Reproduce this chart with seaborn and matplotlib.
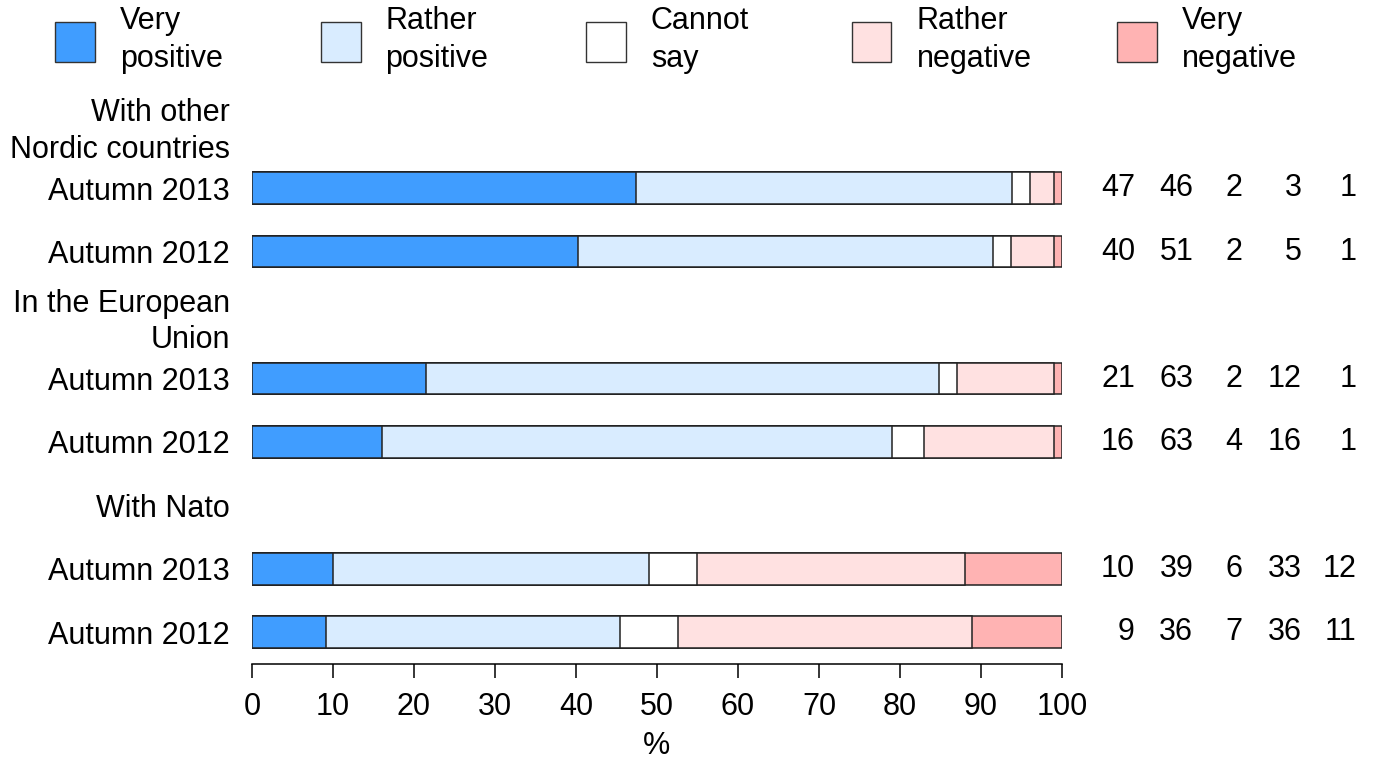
import matplotlib
matplotlib.use("Agg")
import matplotlib.pyplot as plt
from matplotlib.patches import Rectangle
import pandas as pd
import seaborn as sns

categories = ["Very\npositive", "Rather\npositive", "Cannot\nsay", "Rather\nnegative", "Very\nnegative"]
colors = ["#409DFF", "#D9ECFF", "#FFFFFF", "#FFE1E1", "#FFB3B3"]

groups = ["With other\nNordic countries", "In the European\nUnion", "With Nato"]
periods = ["Autumn 2013", "Autumn 2012"]

# bar shares (each row sums to 100)
very_pos = [47.4, 40.2, 21.5, 16.0, 10.0, 9.1]
rather_pos = [46.4, 51.3, 63.3, 63.0, 39.0, 36.3]
cannot_say = [2.2, 2.2, 2.2, 4.0, 5.9, 7.2]
rather_neg = [3.0, 5.3, 12.0, 16.0, 33.1, 36.3]
very_neg = [1.0, 1.0, 1.0, 1.0, 12.0, 11.1]

# the rounded figures printed at the right
printed = [
    [47, 46, 2, 3, 1],
    [40, 51, 2, 5, 1],
    [21, 63, 2, 12, 1],
    [16, 63, 4, 16, 1],
    [10, 39, 6, 33, 12],
    [9, 36, 7, 36, 11],
]

sns.set_theme(style="white")
plt.rcParams["font.family"] = ["Liberation Sans", "DejaVu Sans"]
for key in ["text.color", "axes.labelcolor", "xtick.color", "ytick.color"]:
    plt.rcParams[key] = "black"
FS = 22

# row ids: a header slot per group, then one slot per period
order, tick_labels, bar_rows = [], [], []
for g, group in enumerate(groups):
    order.append(f"h{g}")
    tick_labels.append(group)
    for p, period in enumerate(periods):
        order.append(f"r{g}{p}")
        tick_labels.append(period)
        bar_rows.append(f"r{g}{p}")

segments = [very_pos, rather_pos, cannot_say, rather_neg, very_neg]
df = pd.DataFrame({"row": bar_rows})
running = [0.0] * len(bar_rows)
for k, seg in enumerate(segments):
    running = [a + b for a, b in zip(running, seg)]
    df[f"cum{k}"] = running

fig = plt.figure(figsize=(13.86, 7.61), dpi=100)
ax = fig.add_axes([252 / 1386, 1 - 664 / 761, 810 / 1386, 571 / 761])

# stacked bars: draw cumulative totals from the longest down
for k in reversed(range(len(segments))):
    sns.barplot(data=df, x=f"cum{k}", y="row", order=order, orient="h",
                color=colors[k], saturation=1, width=0.5, errorbar=None,
                edgecolor="#222222", linewidth=1.1, ax=ax)

ax.set_xlim(0, 100)
ax.set_ylim(len(order) - 0.5, -0.5)
ax.set_xticks(range(0, 101, 10))
ax.set_yticks(range(len(order)))
ax.set_yticklabels(tick_labels, linespacing=1.3)
ax.tick_params(axis="y", length=0, pad=15.8, labelsize=FS)
ax.tick_params(axis="x", direction="out", length=10, width=1.1, pad=10,
               labelsize=FS, color="black", bottom=True)
for side in ["top", "right", "left"]:
    ax.spines[side].set_visible(False)
ax.spines["bottom"].set_color("black")
ax.spines["bottom"].set_linewidth(1.1)
ax.set_ylabel("")
ax.set_xlabel("%", fontsize=FS, labelpad=7)

# printed numbers at the right
num_x = [109.0, 116.2, 122.3, 129.6, 136.4]
for row, vals in zip(bar_rows, printed):
    y = order.index(row)
    for xv, v in zip(num_x, vals):
        ax.text(xv, y, str(v), ha="right", va="center", fontsize=FS, clip_on=False)

# legend across the top
for i, (cat, col) in enumerate(zip(categories, colors)):
    x0 = 55 + i * 265.5
    fig.add_artist(Rectangle((x0 / 1386, 1 - 62 / 761), 40 / 1386, 40 / 761,
                             facecolor=col, edgecolor="#333333", linewidth=1.0,
                             transform=fig.transFigure))
    fig.text((x0 + 65) / 1386, 1 - 40 / 761, cat, ha="left", va="center",
             fontsize=FS, linespacing=1.35)

fig.savefig("out.png", dpi=100)
